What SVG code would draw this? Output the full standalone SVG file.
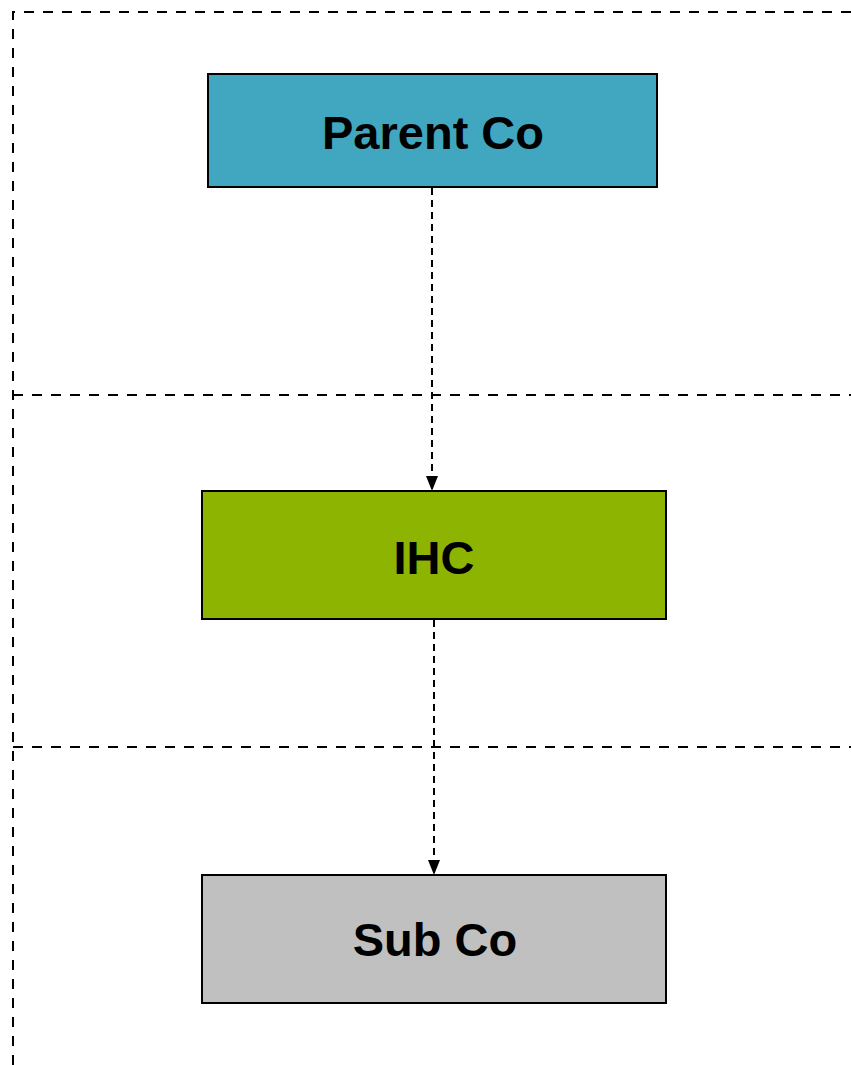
<svg xmlns="http://www.w3.org/2000/svg" width="851" height="1065" viewBox="0 0 851 1065">
  <style>
    .lane { fill: none; stroke: #000; stroke-width: 2; stroke-dasharray: 10 9; }
    .box { stroke: #000; stroke-width: 2; }
    .label { font-family: "Liberation Sans", Arial, sans-serif; font-weight: bold; font-size: 47px; text-anchor: middle; fill: #000; }
    .link { fill: none; stroke: #000; stroke-width: 2; stroke-dasharray: 7 5; }
  </style>
  <rect width="851" height="1065" fill="#fff"/>

  <!-- swimlane boundaries -->
  <g id="lanes">
    <path class="lane" d="M13,1065 V12 H851"/>
    <path class="lane" d="M13,395 H851"/>
    <path class="lane" d="M13,747 H851"/>
  </g>

  <!-- ownership links -->
  <g id="connectors">
    <path class="link" d="M432,188 V478" />
    <path d="M426,476 L438,476 L432,491 Z" fill="#000"/>
    <path class="link" d="M434,620 V862" />
    <path d="M428,860 L440,860 L434,875 Z" fill="#000"/>
  </g>

  <g id="parent-co">
    <rect class="box" x="208" y="74" width="449" height="113" fill="#41A7C1"/>
    <text class="label" x="433" y="149">Parent Co</text>
  </g>

  <g id="ihc">
    <rect class="box" x="202" y="491" width="464" height="128" fill="#8DB400"/>
    <text class="label" x="434" y="574">IHC</text>
  </g>

  <g id="sub-co">
    <rect class="box" x="202" y="875" width="464" height="128" fill="#C0C0C0"/>
    <text class="label" x="435" y="956">Sub Co</text>
  </g>
</svg>
